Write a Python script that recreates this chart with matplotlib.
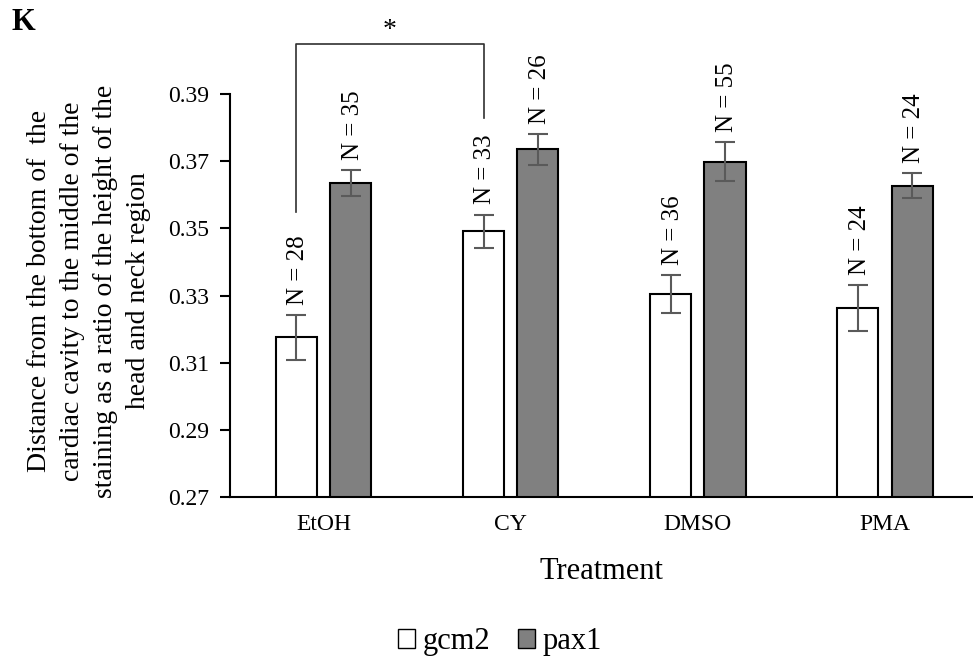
import matplotlib
matplotlib.use("Agg")
import matplotlib.pyplot as plt
import numpy as np

plt.rcParams['font.family'] = ['Liberation Serif', 'DejaVu Serif']

categories = ["EtOH", "CY", "DMSO", "PMA"]
gcm2 = [0.3175, 0.3491, 0.3305, 0.3262]
gcm2_err = [0.0066, 0.0050, 0.0056, 0.0069]
pax1 = [0.3635, 0.3735, 0.3699, 0.3627]
pax1_err = [0.0038, 0.0047, 0.0058, 0.0038]
gcm2_n = [28, 33, 36, 24]
pax1_n = [35, 26, 55, 24]
yticks = [0.27, 0.29, 0.31, 0.33, 0.35, 0.37, 0.39]

fig = plt.figure(figsize=(9.73, 6.61), dpi=100)
ax = fig.add_axes([230/973, 1-497/661, 1-230/973, (497-94)/661])

x = np.arange(len(categories))
w = 0.22
off = 0.145
ekw = dict(ecolor='#5a5a5a', elinewidth=1.5, capsize=7, capthick=1.5)
ax.bar(x - off, gcm2, w, color='white', edgecolor='black', linewidth=1.5,
       yerr=gcm2_err, error_kw=ekw, label='gcm2', zorder=2)
ax.bar(x + off, pax1, w, color='#808080', edgecolor='black', linewidth=1.5,
       yerr=pax1_err, error_kw=ekw, label='pax1', zorder=2)

for xi, v, e, n in zip(x - off, gcm2, gcm2_err, gcm2_n):
    ax.text(xi + 0.01, v + e + 0.0030, f"N = {n}", rotation=90, ha='center', va='bottom',
            fontsize=18, clip_on=False)
for xi, v, e, n in zip(x + off, pax1, pax1_err, pax1_n):
    ax.text(xi + 0.01, v + e + 0.0030, f"N = {n}", rotation=90, ha='center', va='bottom',
            fontsize=18, clip_on=False)

ax.set_ylim(0.27, 0.39)
ax.set_xlim(-0.5, 3.47)
ax.set_yticks(yticks)
ax.set_yticklabels([f"{t:.2f}" for t in yticks], fontsize=17)
ax.set_xticks(x)
ax.set_xticklabels(categories, fontsize=17)
ax.tick_params(axis='x', length=0, pad=12)
ax.tick_params(axis='y', length=7, width=1.5, pad=8)
for s in ['top', 'right']:
    ax.spines[s].set_visible(False)
ax.spines['left'].set_linewidth(1.5)
ax.spines['bottom'].set_linewidth(1.5)

ax.set_xlabel("Treatment", fontsize=22, labelpad=16)
fig.text(89/973, 1-291/661,
         "Distance from the bottom of  the\ncardiac cavity to the middle of the\n"
         "staining as a ratio of the height of the\nhead and neck region",
         rotation=90, ha='center', va='center', fontsize=20, linespacing=1.42)

# significance bracket
y_top = 0.27 + (497-44)/(497-94)*0.12
y_left = 0.27 + (497-212)/(497-94)*0.12
y_right = 0.27 + (497-118)/(497-94)*0.12
ax.plot([0 - off, 0 - off, 1 - off, 1 - off], [y_left, y_top, y_top, y_right],
        color='#303030', lw=1.2, clip_on=False)
ax.text(0.5 - off, y_top + 0.0003, "*", ha='center', va='bottom', fontsize=20)

fig.text(12/973, 1-23/661, "K", fontsize=22, fontweight='bold', va='center', ha='left')

leg = fig.legend(loc='center', bbox_to_anchor=(500/973, 1-642/661), ncol=2, frameon=False,
                 fontsize=22, handlelength=0.55, handleheight=0.55, handletextpad=0.25,
                 columnspacing=0.9)
for h in leg.legend_handles:
    h.set_linewidth(1.0)

fig.savefig("out.png", dpi=100)
